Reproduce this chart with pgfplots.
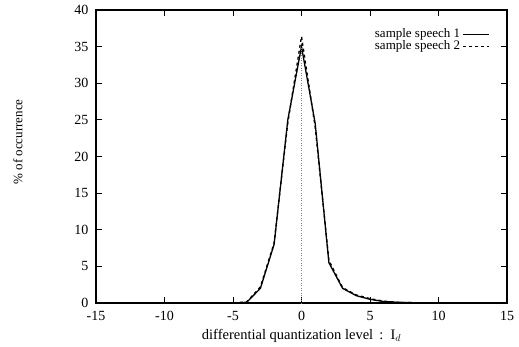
\documentclass[border=0pt]{standalone}
\usepackage{pgfplots}
\pgfplotsset{compat=1.18}
\usepackage{fontspec}
\setmainfont{Liberation Serif}
\begin{document}
\fontsize{13}{15}\selectfont
\begin{tikzpicture}[x=1pt,y=1pt]
\begin{axis}[
  at={(0,0)}, anchor=south west,
  scale only axis, width=411pt, height=293pt,
  xmin=-15, xmax=15, ymin=0, ymax=40,
  xtick={-15,-10,...,15}, ytick={0,5,...,40},
  tick align=inside, major tick length=6pt,
  tick style={line width=1pt, black},
  axis line style={line width=1.2pt},
  /pgf/number format/assume math mode=true,
  xticklabel style={font=\fontsize{14}{15}\selectfont, yshift=-4pt},
  yticklabel style={font=\fontsize{14}{15}\selectfont, xshift=-3pt},
  xlabel={differential quantization level \,:\, I$_d$},
  ylabel={\% of occurrence},
  xlabel style={yshift=1pt, font=\fontsize{14.5}{15}\selectfont},
  ylabel style={at={(axis description cs:-0.19,0.55)}, anchor=center, rotate=0, font=\fontsize{13}{15}\selectfont},
  legend style={draw=none, fill=none, at={(axis description cs:0.965,0.95)}, anchor=north east, font=\fontsize{13}{14}\selectfont, row sep=-3pt},
  legend cell align=right,
  legend plot pos=right,
  legend image code/.code={\draw[#1] (4pt,0pt) -- (30pt,0pt);},
]
\addplot[black, line width=1.3pt] coordinates {
(-15,0) (-14,0) (-13,0) (-12,0) (-11,0) (-10,0) (-9,0) (-8,0) (-7,0) (-6,0) (-5,0)
(-4,0.1) (-3,2.0) (-2,8.0) (-1,25.0) (0,35.0) (1,24.5) (2,5.5) (3,2.0) (4,1.0)
(5,0.5) (6,0.2) (7,0.1) (8,0.05) (9,0) (10,0) (11,0) (12,0) (13,0) (14,0) (15,0)};
\addlegendentry{sample speech 1}
\addplot[black, line width=1.3pt, dashed] coordinates {
(-15,0) (-14,0) (-13,0) (-12,0) (-11,0) (-10,0) (-9,0) (-8,0) (-7,0) (-6,0) (-5,0)
(-4,0.15) (-3,2.2) (-2,8.2) (-1,24.6) (0,36.4) (1,24.0) (2,5.8) (3,2.1) (4,1.1)
(5,0.6) (6,0.25) (7,0.1) (8,0.05) (9,0) (10,0) (11,0) (12,0) (13,0) (14,0) (15,0)};
\addlegendentry{sample speech 2}
\addplot[gray, dotted, line width=0.5pt, forget plot] coordinates {(0,0) (0,35)};
\end{axis}
\pgfresetboundingbox
\path (-96,-43) rectangle (423,303);
\end{tikzpicture}
\end{document}
